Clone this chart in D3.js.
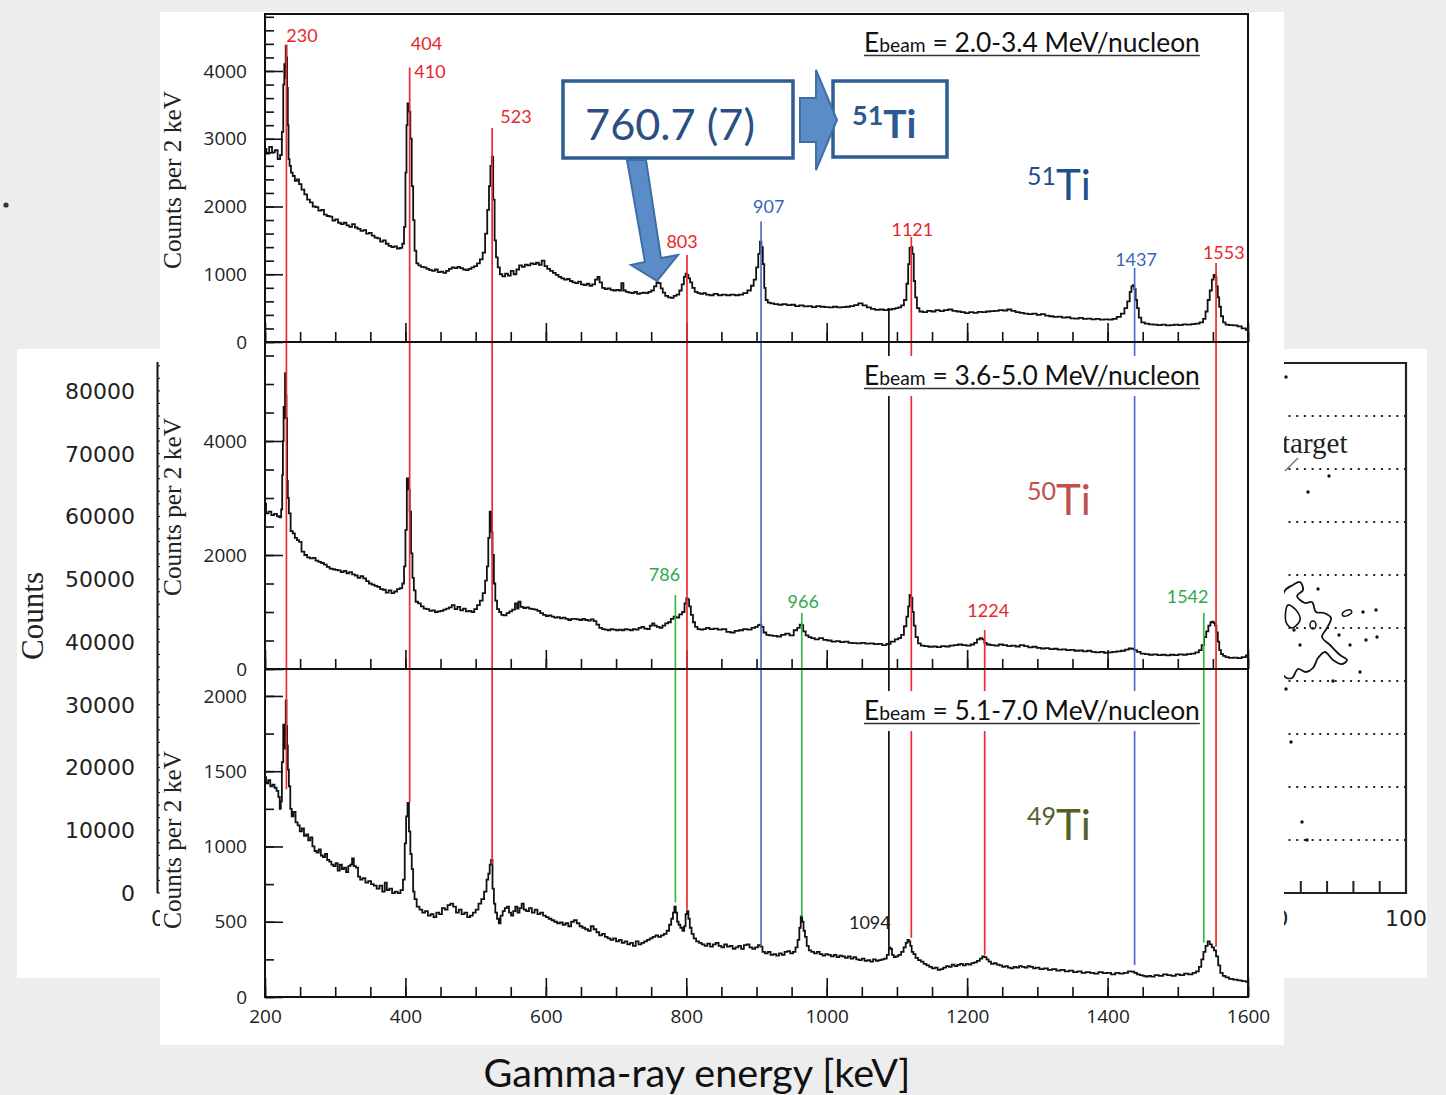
<!DOCTYPE html>
<html>
<head>
<meta charset="utf-8">
<script src="https://cdn.jsdelivr.net/npm/d3@7"></script>
<style>
  body { margin: 0; background: #ededed; }
  svg { display: block; }
</style>
</head>
<body>
<svg id="chart" width="1446" height="1095"></svg>
<script>
// ---- spectra: [energy keV, counts per 2 keV] ----
var spec51 = [[200,2850],[204,2780],[208,2880],[212,2800],[216,2830],[220,2700],[223,2760],[225,3100],[227,3800],[228,4100],[229,3900],[230,4370],[231,4200],[232,3750],[233,3200],[234,2700],[236,2600],[238,2500],[241,2450],[244,2380],[247,2400],[250,2330],[254,2250],[258,2180],[262,2100],[266,2060],[270,2000],[274,1990],[278,1940],[282,1950],[286,1880],[290,1860],[294,1850],[298,1790],[302,1810],[306,1760],[310,1740],[314,1760],[318,1720],[322,1700],[326,1740],[330,1690],[334,1670],[338,1640],[342,1650],[346,1600],[350,1610],[354,1570],[358,1540],[362,1530],[366,1480],[370,1500],[374,1450],[378,1420],[382,1400],[386,1410],[390,1380],[394,1390],[397,1450],[399,1700],[401,2500],[402,3200],[404,3520],[406,3400],[408,3000],[410,2300],[412,1800],[414,1350],[417,1160],[420,1130],[424,1110],[428,1100],[432,1080],[436,1060],[440,1050],[444,1070],[448,1030],[452,1040],[456,1020],[460,1050],[464,1080],[468,1100],[472,1090],[476,1110],[480,1090],[484,1070],[488,1060],[492,1080],[496,1100],[500,1120],[504,1160],[508,1220],[512,1320],[515,1600],[518,1950],[520,2300],[522,2600],[524,2735],[526,2100],[528,1500],[530,1250],[533,1100],[536,1000],[540,970],[544,1010],[548,980],[552,1050],[556,1000],[560,1070],[564,1130],[568,1110],[572,1140],[576,1130],[580,1160],[584,1150],[588,1170],[592,1140],[596,1200],[600,1120],[604,1080],[608,1050],[612,1020],[616,990],[620,960],[624,940],[628,920],[632,930],[636,900],[640,880],[644,870],[648,890],[652,850],[656,840],[660,860],[664,830],[668,850],[672,920],[675,960],[678,880],[682,800],[686,780],[690,790],[694,770],[698,760],[702,770],[706,760],[709,870],[712,760],[716,740],[720,730],[724,720],[728,740],[732,710],[736,720],[740,730],[744,720],[748,740],[752,760],[756,820],[759,880],[762,870],[765,790],[768,730],[772,680],[776,660],[780,650],[784,680],[788,700],[792,760],[795,850],[798,960],[800,1010],[802,990],[804,940],[807,880],[810,800],[814,740],[818,720],[822,710],[826,720],[830,700],[836,690],[842,710],[848,690],[854,700],[860,690],[866,700],[872,690],[878,700],[884,720],[890,760],[894,830],[898,920],[901,1100],[904,1300],[906,1480],[908,1400],[910,1150],[912,800],[914,620],[918,580],[922,570],[928,560],[934,550],[940,560],[946,545],[952,550],[958,530],[964,540],[970,525],[976,530],[982,515],[988,530],[994,520],[1000,515],[1006,510],[1012,520],[1018,510],[1024,515],[1030,520],[1036,530],[1042,545],[1048,570],[1054,540],[1060,510],[1066,490],[1072,475],[1078,480],[1084,470],[1090,480],[1096,490],[1100,500],[1104,510],[1108,540],[1112,620],[1115,860],[1117,1150],[1119,1390],[1121,1400],[1123,1300],[1125,900],[1127,660],[1130,500],[1134,450],[1140,440],[1146,460],[1152,450],[1158,470],[1164,455],[1170,470],[1176,480],[1182,460],[1188,450],[1194,440],[1200,425],[1206,440],[1212,430],[1218,445],[1224,440],[1230,450],[1236,455],[1242,460],[1248,470],[1254,465],[1260,480],[1266,460],[1272,440],[1278,430],[1284,420],[1290,410],[1296,420],[1302,400],[1308,410],[1314,390],[1320,380],[1326,370],[1332,375],[1338,360],[1344,365],[1350,350],[1356,345],[1362,355],[1368,340],[1374,345],[1380,335],[1386,340],[1392,330],[1398,335],[1404,330],[1410,340],[1416,370],[1422,420],[1426,500],[1430,600],[1433,740],[1435,820],[1437,840],[1439,780],[1441,620],[1443,500],[1446,360],[1450,290],[1456,270],[1462,260],[1468,255],[1474,250],[1480,255],[1486,245],[1492,250],[1498,255],[1504,250],[1510,260],[1516,255],[1522,265],[1528,270],[1534,290],[1538,340],[1541,450],[1544,620],[1547,760],[1550,920],[1552,990],[1554,960],[1556,820],[1558,660],[1560,520],[1563,380],[1566,290],[1570,255],[1576,250],[1582,245],[1588,230],[1594,200],[1600,180]];

var spec50 = [[200,2900],[203,2730],[207,2760],[211,2700],[215,2720],[219,2680],[222,2660],[224,2800],[225,3400],[226,4000],[227,4600],[228,4400],[229,5190],[230,4800],[231,4400],[232,3300],[233,3000],[235,2730],[238,2420],[241,2380],[244,2300],[247,2260],[250,2230],[254,2060],[258,2000],[262,1960],[266,1940],[270,1950],[274,1900],[278,1880],[282,1860],[286,1830],[290,1790],[294,1760],[298,1750],[302,1740],[306,1730],[310,1700],[314,1720],[318,1680],[322,1700],[326,1660],[330,1640],[334,1600],[338,1630],[342,1590],[346,1540],[350,1500],[354,1480],[358,1460],[362,1440],[366,1400],[370,1390],[374,1340],[378,1380],[382,1330],[386,1360],[390,1400],[394,1420],[397,1500],[399,1800],[401,2440],[403,3345],[405,3150],[407,2760],[409,2030],[411,1600],[413,1380],[416,1180],[420,1150],[424,1100],[428,1060],[432,1050],[436,1020],[440,1030],[444,1000],[448,1010],[452,1020],[456,1040],[460,1060],[464,1080],[468,1120],[472,1050],[476,1090],[480,1030],[484,1060],[488,1010],[492,1020],[496,1000],[500,1050],[504,1120],[508,1200],[512,1330],[515,1550],[517,1800],[519,2300],[521,2760],[523,2400],[525,2000],[527,1500],[529,1200],[532,1050],[535,1000],[538,950],[542,940],[546,980],[550,1010],[554,1040],[558,1150],[560,1060],[562,1180],[566,1090],[570,1070],[574,1080],[578,1060],[582,1050],[586,1040],[590,1020],[594,980],[598,950],[602,930],[606,940],[610,920],[614,900],[618,910],[622,890],[626,900],[630,880],[634,860],[638,880],[642,880],[646,870],[650,860],[654,880],[658,860],[662,850],[666,870],[670,840],[674,780],[678,720],[682,700],[686,690],[690,680],[694,700],[698,690],[702,680],[706,690],[710,680],[714,700],[718,690],[722,680],[726,700],[730,690],[734,720],[738,740],[742,710],[746,700],[750,760],[753,800],[756,760],[760,740],[764,720],[768,760],[772,800],[776,820],[780,880],[784,920],[788,900],[792,960],[796,1000],[799,1150],[801,1240],[803,1220],[805,1100],[808,950],[811,820],[814,740],[818,700],[822,690],[826,700],[830,720],[836,700],[842,710],[848,690],[854,700],[860,650],[866,640],[872,670],[878,680],[884,700],[890,690],[896,720],[900,740],[904,770],[906,780],[908,740],[912,640],[916,600],[920,590],[926,580],[932,570],[938,600],[944,620],[950,590],[956,680],[960,720],[963,780],[965,770],[968,660],[972,590],[976,560],[980,540],[986,520],[992,540],[998,510],[1004,500],[1010,480],[1016,490],[1022,470],[1028,480],[1034,460],[1040,455],[1046,450],[1052,460],[1058,445],[1064,450],[1070,435],[1076,440],[1082,420],[1088,440],[1094,480],[1100,520],[1104,540],[1108,600],[1112,750],[1115,920],[1117,1100],[1119,1300],[1121,1250],[1123,1000],[1125,760],[1128,560],[1132,450],[1136,410],[1142,400],[1148,390],[1154,395],[1160,385],[1166,400],[1172,395],[1178,410],[1184,420],[1190,430],[1196,420],[1202,410],[1208,430],[1212,460],[1216,520],[1220,540],[1223,520],[1226,460],[1230,430],[1236,420],[1242,410],[1248,430],[1254,420],[1260,400],[1266,410],[1272,395],[1278,420],[1284,400],[1290,380],[1296,390],[1302,370],[1308,360],[1314,365],[1320,350],[1326,355],[1332,340],[1338,345],[1344,330],[1350,335],[1356,320],[1362,325],[1368,310],[1374,320],[1380,300],[1386,290],[1392,300],[1398,285],[1404,290],[1410,300],[1416,310],[1422,320],[1428,340],[1432,360],[1436,355],[1440,330],[1444,300],[1450,270],[1456,260],[1462,250],[1468,255],[1474,245],[1480,250],[1486,240],[1492,250],[1498,245],[1504,255],[1510,250],[1516,260],[1522,270],[1528,290],[1532,330],[1536,420],[1539,560],[1542,660],[1545,760],[1548,820],[1550,830],[1552,810],[1554,760],[1556,640],[1558,480],[1560,330],[1563,260],[1566,230],[1570,210],[1576,195],[1582,200],[1588,190],[1594,210],[1600,240]];

var spec49 = [[200,1460],[203,1420],[206,1440],[209,1400],[212,1410],[215,1390],[218,1370],[220,1330],[222,1250],[223,1300],[225,1560],[227,1810],[228,1650],[229,1750],[230,1970],[231,1800],[232,1670],[233,1510],[235,1400],[237,1250],[239,1200],[242,1230],[245,1160],[248,1140],[251,1100],[254,1120],[257,1070],[260,1080],[263,1040],[266,1060],[269,1000],[272,970],[275,960],[278,980],[281,940],[284,930],[287,950],[290,910],[293,900],[296,880],[299,870],[302,890],[305,840],[308,880],[311,850],[314,860],[317,830],[320,870],[323,880],[325,920],[328,870],[331,860],[334,800],[337,780],[341,790],[345,760],[349,770],[353,750],[357,740],[361,720],[365,740],[369,700],[372,760],[375,710],[379,720],[383,690],[387,700],[391,690],[395,710],[398,780],[400,1020],[402,1200],[404,1290],[406,1100],[408,950],[410,850],[412,700],[414,650],[418,600],[422,580],[426,560],[430,570],[434,540],[438,550],[442,530],[446,560],[450,550],[454,590],[458,580],[462,610],[466,620],[470,600],[474,560],[478,580],[482,550],[486,560],[490,530],[494,540],[498,560],[502,580],[506,620],[510,650],[514,700],[517,780],[519,820],[521,880],[523,910],[525,720],[527,620],[529,560],[532,520],[534,490],[537,540],[540,570],[543,590],[546,600],[549,560],[552,540],[555,570],[558,600],[561,560],[564,590],[567,620],[570,580],[574,570],[578,590],[582,560],[586,580],[590,550],[594,560],[598,540],[602,530],[606,520],[610,510],[614,500],[618,490],[622,495],[626,480],[630,490],[634,470],[638,500],[642,510],[646,490],[650,470],[654,460],[658,450],[662,440],[666,470],[670,450],[674,430],[678,410],[682,420],[686,400],[690,390],[694,380],[698,390],[702,370],[706,380],[710,360],[714,370],[718,350],[722,360],[726,340],[730,370],[734,350],[738,360],[742,370],[746,380],[750,390],[754,400],[758,410],[762,400],[766,410],[770,420],[774,440],[777,480],[780,520],[782,560],[784,600],[786,560],[788,500],[790,480],[793,460],[796,440],[798,470],[800,550],[802,570],[804,520],[806,460],[809,420],[812,390],[816,370],[820,360],[824,350],[828,340],[832,355],[836,335],[840,350],[844,360],[848,340],[852,330],[856,350],[860,335],[864,340],[868,320],[872,330],[876,340],[880,320],[884,345],[888,350],[892,330],[896,320],[900,330],[904,345],[907,335],[910,300],[914,290],[918,300],[922,280],[926,285],[930,275],[934,290],[938,280],[942,300],[946,305],[950,290],[954,300],[957,330],[960,380],[962,460],[964,536],[966,500],[968,440],[970,400],[973,340],[976,310],[980,300],[984,290],[988,300],[992,285],[996,275],[1000,285],[1004,280],[1008,270],[1012,280],[1016,265],[1020,275],[1024,270],[1028,260],[1032,270],[1036,255],[1040,265],[1044,250],[1048,245],[1052,255],[1056,240],[1060,245],[1064,235],[1068,250],[1072,240],[1076,245],[1080,250],[1084,255],[1087,280],[1090,330],[1092,320],[1094,280],[1097,265],[1100,270],[1104,280],[1108,300],[1111,330],[1114,360],[1116,380],[1118,370],[1120,340],[1122,300],[1125,285],[1128,260],[1132,245],[1136,235],[1140,220],[1144,210],[1148,200],[1152,190],[1156,195],[1160,180],[1164,185],[1168,195],[1172,205],[1176,200],[1180,215],[1184,205],[1188,213],[1192,220],[1196,210],[1200,220],[1204,215],[1208,225],[1212,230],[1216,240],[1220,255],[1223,270],[1226,265],[1229,250],[1232,235],[1236,220],[1240,225],[1244,215],[1248,210],[1252,200],[1256,205],[1260,195],[1264,190],[1268,200],[1272,195],[1276,205],[1280,200],[1284,195],[1288,205],[1292,200],[1296,190],[1300,195],[1306,185],[1312,190],[1318,180],[1324,185],[1330,175],[1336,180],[1342,170],[1348,175],[1354,165],[1360,170],[1366,160],[1372,165],[1378,160],[1384,155],[1390,165],[1396,158],[1402,160],[1408,150],[1414,160],[1420,155],[1426,160],[1432,170],[1436,168],[1440,160],[1444,150],[1448,145],[1452,140],[1456,135],[1460,140],[1464,135],[1470,145],[1476,140],[1482,150],[1488,145],[1494,140],[1500,150],[1506,145],[1512,155],[1518,150],[1524,160],[1528,170],[1532,200],[1535,250],[1538,300],[1541,340],[1544,370],[1547,350],[1550,330],[1553,310],[1556,270],[1559,210],[1562,160],[1566,140],[1570,130],[1576,120],[1582,115],[1588,110],[1594,105],[1600,100]];

var spectra = [spec51, spec50, spec49];
var beamRanges = ['2.0-3.4', '3.6-5.0', '5.1-7.0'];
var isotopes = [['51', 'Ti'], ['50', 'Ti'], ['49', 'Ti']];

// y ranges of the three panels and their tick steps
var panelTop = [4841, 5737, 2179];
var panelMajor = [[0, 1000, 2000, 3000, 4000], [0, 2000, 4000], [0, 500, 1000, 1500, 2000]];
var panelMinorStep = [200, 500, 250];
var xMajor = [200, 400, 600, 800, 1000, 1200, 1400, 1600];
var xMinorStep = 50;

// marker lines: energy, colour, [panel, counts] where they start and end
var peakLines = [
  {e: 230.5, col: 'red', from: [0, 4390], to: [2, 1380]},
  {e: 406, col: 'red', from: [0, 4050], to: [2, 1293]},
  {e: 523.5, col: 'red', from: [0, 3160], to: [2, 880]},
  {e: 784.5, col: 'green', from: [1, 1298], to: [2, 627]},
  {e: 801, col: 'red', from: [0, 1285], to: [2, 580]},
  {e: 906.5, col: 'blue', from: [0, 1777], to: [2, 336]},
  {e: 964.5, col: 'green', from: [1, 982], to: [2, 533]},
  {e: 1088.5, col: 'black', from: [0, 502], to: [2, 333]},
  {e: 1120.5, col: 'red', from: [0, 1555], to: [2, 393]},
  {e: 1225, col: 'red', from: [1, 684], to: [2, 280]},
  {e: 1438.5, col: 'blue', from: [0, 1093], to: [2, 213]},
  {e: 1537, col: 'green', from: [1, 982], to: [2, 360]},
  {e: 1554.5, col: 'red', from: [0, 1167], to: [2, 333]}
];

// peak labels: text, colour, panel, centre energy, baseline counts
var peakLabels = [
  {t: '230', col: 'red', p: 0, e: 252.7, c: 4432},
  {t: '404', col: 'red', p: 0, e: 430, c: 4310},
  {t: '410', col: 'red', p: 0, e: 435, c: 3892},
  {t: '523', col: 'red', p: 0, e: 557.5, c: 3228},
  {t: '803', col: 'red', p: 0, e: 794, c: 1387},
  {t: '907', col: 'blue', p: 0, e: 917.4, c: 1908},
  {t: '1121', col: 'red', p: 0, e: 1122, c: 1569},
  {t: '1437', col: 'blue', p: 0, e: 1440.5, c: 1126},
  {t: '1553', col: 'red', p: 0, e: 1565.5, c: 1221},
  {t: '786', col: 'green', p: 1, e: 769, c: 1549},
  {t: '966', col: 'green', p: 1, e: 966.6, c: 1075},
  {t: '1224', col: 'red', p: 1, e: 1230, c: 912},
  {t: '1542', col: 'green', p: 1, e: 1514, c: 1153},
  {t: '1094', col: 'black', p: 2, e: 1061.4, c: 450}
];

// background figures peeking out behind the main one
var leftTicks = [0, 10000, 20000, 30000, 40000, 50000, 60000, 70000, 80000];
var rightGrid = [1, 2, 3, 4, 5, 6, 7, 8, 9];
var rightTicks = [60, 70, 80, 90];
var rightDots = [[1286,377],[1329,476],[1308,492],[1318,589],[1376,610],[1363,612],[1339,635],[1350,645],[1366,640],[1377,637],[1360,672],[1286,689],[1291,742],[1302,822],[1307,840],[1333,681],[1300,645],[1294,630]];
var contourA = [[1284,592],[1293,585],[1300,582],[1303,590],[1297,596],[1305,603],[1312,602],[1316,612],[1324,613],[1331,618],[1327,628],[1322,637],[1330,645],[1340,655],[1347,660],[1342,664],[1333,660],[1325,652],[1318,658],[1313,668],[1306,672],[1298,669],[1292,678],[1284,676]];
var contourB = [[1288,605],[1296,610],[1300,620],[1292,628],[1286,622]];

var colours = {red: '#ec2a30', blue: '#4a70c2', green: '#3cb54a', black: '#111'};
var labelColours = {red: '#e8262b', blue: '#3b63b8', green: '#33a84c', black: '#222'};

var svg = d3.select('#chart');
var sans = 'Lato, "Open Sans", sans-serif';
var serif = '"Liberation Serif", "DejaVu Serif", serif';

function fitText(sel, target) {
  var w = sel.node().getComputedTextLength();
  var k = target / w;
  sel.attr('font-size', parseFloat(sel.attr('font-size')) * k);
  sel.selectAll('tspan').each(function () {
    var t = d3.select(this);
    if (t.attr('font-size')) t.attr('font-size', parseFloat(t.attr('font-size')) * k);
    if (t.attr('dy')) t.attr('dy', parseFloat(t.attr('dy')) * k);
  });
}

svg.append('rect').attr('width', 1446).attr('height', 1095).attr('fill', '#ededed');
svg.append('circle').attr('cx', 6).attr('cy', 205).attr('r', 2.6).attr('fill', '#333');

// ---- left background figure ----
var yL = d3.scaleLinear().domain([0, 84600]).range([893, 362]);
var gL = svg.append('g');
gL.append('rect').attr('x', 17).attr('y', 349).attr('width', 200).attr('height', 629).attr('fill', '#fff');
gL.append('line').attr('x1', 157.5).attr('x2', 157.5).attr('y1', 362).attr('y2', 893)
  .attr('stroke', '#111').attr('stroke-width', 2);
gL.selectAll('.lt').data(d3.range(0, 84001, 2000)).enter().append('line')
  .attr('x1', 157).attr('x2', 161).attr('y1', function (d) { return yL(d); }).attr('y2', function (d) { return yL(d); })
  .attr('stroke', '#222').attr('stroke-width', 1.2);
gL.selectAll('.ll').data(leftTicks).enter().append('text')
  .attr('x', 135).attr('y', function (d) { return yL(d); }).attr('dy', '0.36em')
  .attr('text-anchor', 'end').attr('font-family', '"DejaVu Sans", sans-serif').attr('font-size', 22)
  .attr('fill', '#222').text(function (d) { return d; });
gL.append('text').attr('x', 158).attr('y', 918).attr('dy', '0.36em').attr('text-anchor', 'middle')
  .attr('font-family', '"DejaVu Sans", sans-serif').attr('font-size', 22).attr('fill', '#222').text('0');
var countsL = gL.append('text').attr('transform', 'translate(43,616) rotate(-90)')
  .attr('text-anchor', 'middle').attr('font-family', serif).attr('font-size', 32).attr('fill', '#222').text('Counts');
fitText(countsL, 88);

// ---- right background figure ----
var xR = d3.scaleLinear().domain([0, 100]).range([1143, 1406]);
var yR = d3.scaleLinear().domain([0, 10]).range([893, 363]);
var gR = svg.append('g');
gR.append('rect').attr('x', 1250).attr('y', 349).attr('width', 177).attr('height', 629).attr('fill', '#fff');
gR.selectAll('.gr').data(rightGrid).enter().append('line')
  .attr('x1', 1250).attr('x2', xR(100)).attr('y1', function (d) { return yR(d); }).attr('y2', function (d) { return yR(d); })
  .attr('stroke', '#222').attr('stroke-width', 2).attr('stroke-dasharray', '2,5.7');
gR.append('path').attr('d', 'M1250,' + yR(10) + 'H' + xR(100) + 'V' + yR(0) + 'H1250')
  .attr('fill', 'none').attr('stroke', '#222').attr('stroke-width', 2.2);
gR.selectAll('.rt').data(rightTicks).enter().append('line')
  .attr('x1', function (d) { return xR(d); }).attr('x2', function (d) { return xR(d); })
  .attr('y1', yR(0)).attr('y2', yR(0) - 12).attr('stroke', '#222').attr('stroke-width', 2);
gR.append('text').attr('x', xR(100)).attr('y', 918).attr('dy', '0.36em').attr('text-anchor', 'middle')
  .attr('font-family', '"DejaVu Sans", sans-serif').attr('font-size', 22).attr('fill', '#222').text('100');
gR.append('text').attr('x', xR(50)).attr('y', 918).attr('dy', '0.36em').attr('text-anchor', 'middle')
  .attr('font-family', '"DejaVu Sans", sans-serif').attr('font-size', 22).attr('fill', '#222').text('50');
gR.append('text').attr('x', 1282).attr('y', 453).attr('font-family', serif).attr('font-size', 29)
  .attr('fill', '#222').text('target');
gR.append('line').attr('x1', 1285).attr('y1', 471).attr('x2', 1298).attr('y2', 458)
  .attr('stroke', '#777').attr('stroke-width', 1.5);
gR.append('path').attr('d', d3.line().curve(d3.curveCatmullRomClosed)(contourA))
  .attr('fill', 'none').attr('stroke', '#111').attr('stroke-width', 1.8);
gR.append('path').attr('d', d3.line().curve(d3.curveCatmullRomClosed)(contourB))
  .attr('fill', 'none').attr('stroke', '#111').attr('stroke-width', 1.6);
gR.append('ellipse').attr('cx', 1347).attr('cy', 613).attr('rx', 5).attr('ry', 2.6)
  .attr('transform', 'rotate(-25,1347,613)').attr('fill', 'none').attr('stroke', '#111').attr('stroke-width', 1.5);
gR.append('ellipse').attr('cx', 1313).attr('cy', 625).attr('rx', 3).attr('ry', 4)
  .attr('fill', 'none').attr('stroke', '#111').attr('stroke-width', 1.5);
gR.selectAll('.dot').data(rightDots).enter().append('circle')
  .attr('cx', function (d) { return d[0]; }).attr('cy', function (d) { return d[1]; }).attr('r', 1.7).attr('fill', '#111');

// ---- main figure ----
svg.append('rect').attr('x', 160).attr('y', 12).attr('width', 1124).attr('height', 1033).attr('fill', '#fff');

var x = d3.scaleLinear().domain([200, 1600]).range([265, 1248]);
var panelPix = [[14, 342], [342, 669], [669, 997]];
var titleMid = [180, 507, 840];
var ys = panelPix.map(function (r, i) {
  return d3.scaleLinear().domain([0, panelTop[i]]).range([r[1], r[0]]);
});

var g = svg.append('g');
var axisFont = '"Open Sans", "Noto Sans", sans-serif';

panelPix.forEach(function (r, i) {
  var y = ys[i];
  // minor y ticks
  var minor = d3.range(0, panelTop[i], panelMinorStep[i]);
  g.append('g').attr('transform', 'translate(265,0)')
    .call(d3.axisLeft(y).tickValues(minor).tickSize(-9).tickFormat(''))
    .call(function (s) { s.select('.domain').remove(); s.selectAll('line').attr('stroke', '#111').attr('stroke-width', 1.6); });
  var ya = g.append('g').attr('transform', 'translate(265,0)')
    .call(d3.axisLeft(y).tickValues(panelMajor[i]).tickSizeInner(-18).tickSizeOuter(0).tickPadding(18)
      .tickFormat(d3.format('d')));
  ya.select('.domain').remove();
  ya.selectAll('line').attr('stroke', '#111').attr('stroke-width', 1.6);
  ya.selectAll('text').attr('font-family', axisFont).attr('font-size', 19).attr('fill', '#222');

  // x ticks on the bottom of every panel
  g.append('g').attr('transform', 'translate(0,' + r[1] + ')')
    .call(d3.axisBottom(x).tickValues(d3.range(200, 1601, xMinorStep)).tickSize(-10).tickFormat(''))
    .call(function (s) { s.select('.domain').remove(); s.selectAll('line').attr('stroke', '#111').attr('stroke-width', 1.6); });
  var xa = g.append('g').attr('transform', 'translate(0,' + r[1] + ')')
    .call(d3.axisBottom(x).tickValues(xMajor).tickSizeInner(-19).tickSizeOuter(0).tickPadding(13)
      .tickFormat(i === 2 ? d3.format('d') : ''));
  xa.select('.domain').remove();
  xa.selectAll('line').attr('stroke', '#111').attr('stroke-width', 1.6);
  xa.selectAll('text').attr('font-family', axisFont).attr('font-size', 19).attr('fill', '#222');

  // spectrum
  g.append('path').datum(spectra[i])
    .attr('d', d3.line().curve(d3.curveStep).x(function (d) { return x(d[0]); }).y(function (d) { return y(d[1]); }))
    .attr('fill', 'none').attr('stroke', '#111').attr('stroke-width', 1.8).attr('stroke-linejoin', 'miter');

  // y title
  var yt = g.append('text').attr('transform', 'translate(181,' + titleMid[i] + ') rotate(-90)')
    .attr('text-anchor', 'middle').attr('font-family', serif).attr('font-size', 26).attr('fill', '#222')
    .text('Counts per 2 keV');
  fitText(yt, 178);
});

// marker lines
g.selectAll('.pl').data(peakLines).enter().append('line')
  .attr('x1', function (d) { return x(d.e); }).attr('x2', function (d) { return x(d.e); })
  .attr('y1', function (d) { return ys[d.from[0]](d.from[1]); })
  .attr('y2', function (d) { return ys[d.to[0]](d.to[1]); })
  .attr('stroke', function (d) { return colours[d.col]; }).attr('stroke-width', 1.7);

// frame
g.append('rect').attr('x', 265).attr('y', 14).attr('width', 983).attr('height', 983)
  .attr('fill', 'none').attr('stroke', '#111').attr('stroke-width', 2);
[342, 669].forEach(function (yy) {
  g.append('line').attr('x1', 265).attr('x2', 1248).attr('y1', yy).attr('y2', yy).attr('stroke', '#111').attr('stroke-width', 2);
});

// peak labels
g.selectAll('.lab').data(peakLabels).enter().append('text')
  .attr('x', function (d) { return x(d.e); }).attr('y', function (d) { return ys[d.p](d.c); })
  .attr('text-anchor', 'middle').attr('font-family', sans).attr('font-size', 18)
  .attr('fill', function (d) { return labelColours[d.col]; }).text(function (d) { return d.t; });

// beam energy labels with white background
var beamBase = [52, 385, 720];
beamRanges.forEach(function (br, i) {
  var bg = g.append('rect').attr('fill', '#fff');
  var t = g.append('text').attr('x', 864).attr('y', beamBase[i]).attr('font-family', sans)
    .attr('font-size', 26).attr('fill', '#111');
  t.append('tspan').text('E');
  t.append('tspan').attr('font-size', 19).text('beam');
  t.append('tspan').text(' = ' + br + ' MeV/nucleon');
  fitText(t, 336);
  var bb = t.node().getBBox();
  bg.attr('x', bb.x - 2).attr('y', bb.y - 3).attr('width', bb.width + 4).attr('height', bb.height + 8);
  g.append('line').attr('x1', bb.x).attr('x2', bb.x + bb.width).attr('y1', beamBase[i] + 3.5).attr('y2', beamBase[i] + 3.5)
    .attr('stroke', '#333').attr('stroke-width', 1.6);
});

// isotope tags
var isoColours = ['#1f4e8c', '#c0504d', '#4f6228'];
var isoBase = [200, 515, 840];
isotopes.forEach(function (iso, i) {
  var t = g.append('text').attr('x', 1027).attr('y', isoBase[i] - 15).attr('font-family', sans)
    .attr('fill', isoColours[i]).attr('font-size', 25);
  t.append('tspan').text(iso[0]);
  t.append('tspan').attr('dy', 15).attr('font-size', 42).text(iso[1]);
});

// ---- callout ----
var co = svg.append('g');
co.append('rect').attr('x', 563).attr('y', 81).attr('width', 230).attr('height', 77)
  .attr('fill', '#fff').attr('stroke', '#2e5d94').attr('stroke-width', 3.5);
var ct = co.append('text').attr('x', 670).attr('y', 140).attr('text-anchor', 'middle')
  .attr('font-family', sans).attr('font-size', 42).attr('fill', '#2b4f82').text('760.7 (7)');
fitText(ct, 170);
co.append('polygon').attr('points', '627,160 646,160 661,258 678,255 657,281 631,265 645,262')
  .attr('fill', '#5b8cc8').attr('stroke', '#3d6ea5').attr('stroke-width', 2);
co.append('rect').attr('x', 833).attr('y', 81).attr('width', 114).attr('height', 76)
  .attr('fill', '#fff').attr('stroke', '#2e5d94').attr('stroke-width', 3.5);
co.append('polygon').attr('points', '800,98 816,98 816,70 837,120 816,170 816,142 800,142')
  .attr('fill', '#5b8cc8').attr('stroke', '#3d6ea5').attr('stroke-width', 2);
var bt = co.append('text').attr('x', 852).attr('y', 125).attr('font-family', sans).attr('font-weight', 'bold')
  .attr('fill', '#2a5a8f').attr('font-size', 27);
bt.append('tspan').text('51');
bt.append('tspan').attr('dy', 13).attr('font-size', 39).text('Ti');

// x title
var xt = svg.append('text').attr('x', 697).attr('y', 1087).attr('text-anchor', 'middle')
  .attr('font-family', sans).attr('font-size', 36).attr('fill', '#111').text('Gamma-ray energy [keV]');
fitText(xt, 427);
</script>
</body>
</html>
